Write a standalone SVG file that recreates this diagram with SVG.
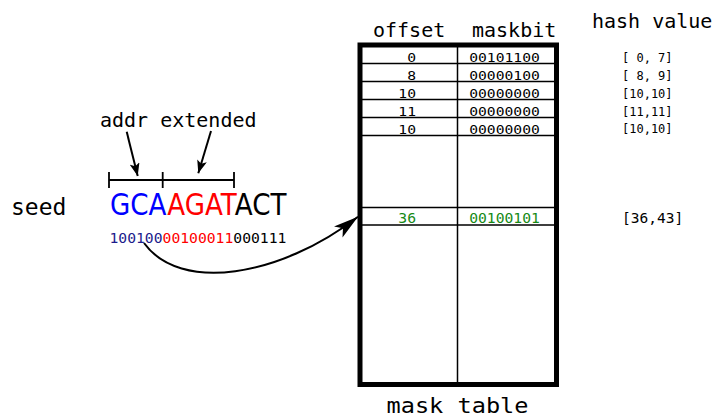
<svg xmlns="http://www.w3.org/2000/svg" width="719" height="416" viewBox="0 0 719 416">
<style>
.mono{font-family:"DejaVu Sans Mono","Liberation Mono",monospace;fill:#000}
.hdr{font-size:20px}
.cell{font-size:14.7px}
.hash{font-size:12px}
.big{font-family:"DejaVu Sans","Liberation Sans",sans-serif;font-size:30px}
.thin{stroke:#000;stroke-width:1.5;fill:none}
.grn{fill:#168a16}
.conn{stroke:#000;stroke-width:2;fill:none}
</style>
<defs>
<marker id="headS" markerUnits="userSpaceOnUse" markerWidth="14" markerHeight="10" refX="13" refY="5" orient="auto">
<path d="M0,0 L13,5 L0,10 L3,5 Z" fill="#000"/>
</marker>
<marker id="headB" markerUnits="userSpaceOnUse" markerWidth="26" markerHeight="14" refX="25" refY="7" orient="auto">
<path d="M0,0 L25,7 L0,14 L6,7 Z" fill="#000"/>
</marker>
</defs>
<rect width="719" height="416" fill="#fff"/>

<g id="seed-label">
<text class="mono" x="11" y="215" font-size="23">seed</text>
</g>

<g id="seed">
<text class="big" x="110" y="215" textLength="176.5" lengthAdjust="spacingAndGlyphs"><tspan fill="#0000ff">GCA</tspan><tspan fill="#ff0000">AGAT</tspan><tspan fill="#000">ACT</tspan></text>
<text class="mono cell" x="109.5" y="242.7"><tspan fill="#1c1c8c">100100</tspan><tspan fill="#ff0000">00100011</tspan><tspan fill="#000">000111</tspan></text>
</g>

<g id="bracket">
<path class="thin" d="M109,180 H234 M109,172 V188 M162.7,172 V188 M234,172 V188" style="stroke-width:1.8"/>
</g>

<g id="labels">
<text class="mono hdr" x="100" y="126.7">addr extended</text>
</g>

<g id="mask-table">
<text class="mono hdr" x="373" y="36.7">offset</text>
<text class="mono hdr" x="472" y="36.7">maskbit</text>
<rect x="360" y="45" width="196.5" height="339.5" fill="none" stroke="#000" stroke-width="5"/>
<path class="thin" d="M360,63.5 H556.5 M360,81.5 H556.5 M360,99.5 H556.5 M360,117.5 H556.5 M360,135.5 H556.5 M360,207.5 H556.5 M360,225 H556.5 M457.5,45 V384.5"/>
<g class="mono cell">
<text transform="translate(416,62) scale(1,0.78)" text-anchor="end">0</text>
<text transform="translate(416,80) scale(1,0.78)" text-anchor="end">8</text>
<text transform="translate(416,98) scale(1,0.78)" text-anchor="end">10</text>
<text transform="translate(416,116) scale(1,0.78)" text-anchor="end">11</text>
<text transform="translate(416,134) scale(1,0.78)" text-anchor="end">10</text>
<text transform="translate(504.5,62) scale(1,0.78)" text-anchor="middle">00101100</text>
<text transform="translate(504.5,80) scale(1,0.78)" text-anchor="middle">00000100</text>
<text transform="translate(504.5,98) scale(1,0.78)" text-anchor="middle">00000000</text>
<text transform="translate(504.5,116) scale(1,0.78)" text-anchor="middle">00000000</text>
<text transform="translate(504.5,134) scale(1,0.78)" text-anchor="middle">00000000</text>
<text class="grn" x="416" y="223.3" text-anchor="end">36</text>
<text class="grn" x="504.5" y="223.3" text-anchor="middle">00100101</text>
</g>
<text class="mono" x="457.5" y="412.5" font-size="22" text-anchor="middle" textLength="142" lengthAdjust="spacingAndGlyphs">mask table</text>
</g>

<g id="hash-values">
<text class="mono hdr" x="592" y="28">hash value</text>
<text class="mono hash" x="622" y="61.7" xml:space="preserve">[ 0, 7]</text>
<text class="mono hash" x="622" y="79.5" xml:space="preserve">[ 8, 9]</text>
<text class="mono hash" x="622" y="97.5">[10,10]</text>
<text class="mono hash" x="622" y="115.5">[11,11]</text>
<text class="mono hash" x="622" y="133.3">[10,10]</text>
<text class="mono" x="622" y="223.3" font-size="14.5">[36,43]</text>
</g>

<g id="connectors">
<path class="conn" d="M126.7,131.7 L137.7,176" marker-end="url(#headS)"/>
<path class="conn" d="M211,131 L198.3,173.3" marker-end="url(#headS)"/>
<path class="conn" d="M144,243 C180,293 280,277 358,216.7" marker-end="url(#headB)"/>
</g>
</svg>
